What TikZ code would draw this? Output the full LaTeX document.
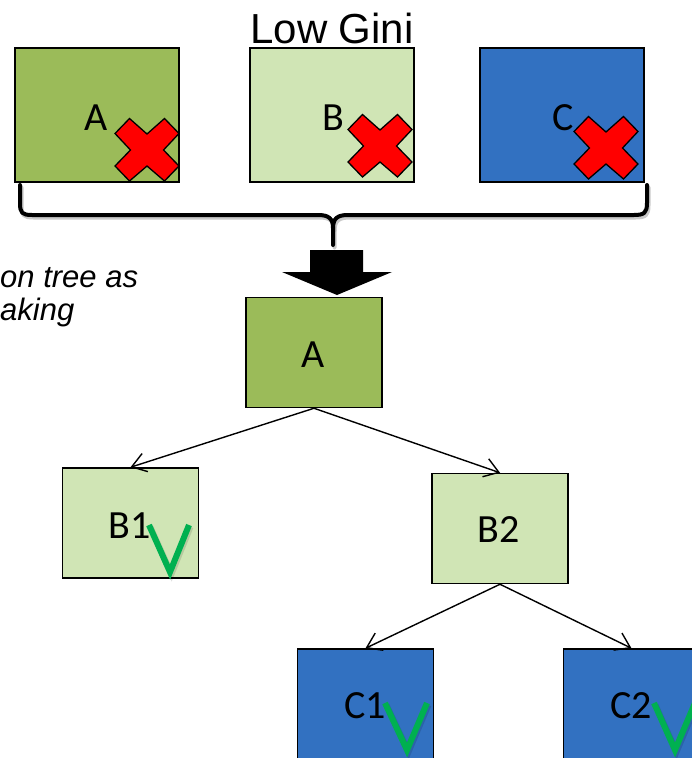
\documentclass[tikz,border=0pt]{standalone}
\usepackage{fontspec}
\setmainfont{Liberation Sans}
\newfontfamily\calfont{Carlito}
\usetikzlibrary{arrows.meta}
\definecolor{dgreen}{HTML}{9BBB59}
\definecolor{lgreen}{HTML}{D0E5B5}
\definecolor{cblue}{HTML}{3271C1}
\definecolor{xred}{HTML}{FF0000}
\definecolor{vgreen}{HTML}{00B050}
\begin{document}
\begin{tikzpicture}[x=1pt,y=-1pt,
  box/.style={draw=black, line width=1.5pt, inner sep=0pt},
  topbox/.style={box, minimum width=164pt, minimum height=134pt},
  treebox/.style={box, minimum width=136pt, minimum height=110pt},
  lab/.style={anchor=base, inner sep=0pt, font=\calfont\fontsize{40}{48}\selectfont},
  edge/.style={line width=1.4pt, -{Straight Barb[length=14pt,width=19pt,line width=1.4pt]}},
  check/.style={draw=vgreen, line width=6pt, line cap=butt, line join=miter},
  checkshadow/.style={check, draw=black, opacity=0.12, shift={(1.5,2)}},
  brace/.style={line width=4pt, line join=round, line cap=round},
  redx/.pic={\draw[fill=xred, draw=black, line width=1.3pt, line join=miter]
     (-32,-16.5) -- (-17.5,-31.5) -- (0,-16) -- (17.5,-31.5) -- (32,-16.5) -- (16.5,0)
     -- (32,16) -- (17.5,31) -- (0,16) -- (-17.5,31) -- (-32,16) -- (-16.5,0) -- cycle;}
]
\useasboundingbox (0,0) rectangle (692,758);

% title
\node[anchor=base, inner sep=0pt, font=\fontsize{42}{50}\selectfont] (title) at (332,43) {Low Gini};

% top boxes
\node[topbox, fill=dgreen] (tA) at (97,115) {};
\node[topbox, fill=lgreen] (tB) at (332,115) {};
\node[topbox, fill=cblue]  (tC) at (562,115) {};
\node[lab] (tAl) at (96.5,130) {A};
\node[lab] (tBl) at (333,130) {B};
\node[lab] (tCl) at (563,130) {C};
\pic at (147,150) {redx};
\pic at (380,146) {redx};
\pic at (606,148) {redx};

% brace (shadow then brace)
\begin{scope}[shift={(1.5,2.5)}]
\draw[brace, black!30, opacity=0.7]
  (20,185) -- (20,203) .. controls (20,213) and (22,215) .. (32,215) -- (318,215)
  .. controls (328,215) and (333,218) .. (333,228) -- (333,245);
\draw[brace, black!30, opacity=0.7]
  (333,228) .. controls (333,218) and (338,215) .. (348,215) -- (634,215)
  .. controls (644,215) and (647,213) .. (647,203) -- (647,185);
\end{scope}
\draw[brace]
  (20,185) -- (20,203) .. controls (20,213) and (22,215) .. (32,215) -- (318,215)
  .. controls (328,215) and (333,218) .. (333,228) -- (333,245);
\draw[brace]
  (333,228) .. controls (333,218) and (338,215) .. (348,215) -- (634,215)
  .. controls (644,215) and (647,213) .. (647,203) -- (647,185);

% block arrow
\fill[black] (310,250) -- (363,250) -- (363,272) -- (392,272) -- (337,295)
  -- (282,272) -- (310,272) -- cycle;

% side text (cropped)
\node[anchor=base west, inner sep=0pt, font=\itshape\fontsize{31}{36}\selectfont] (txt1) at (0,287) {on tree as};
\node[anchor=base west, inner sep=0pt, font=\itshape\fontsize{31}{36}\selectfont] (txt2) at (0,320) {aking};

% tree
\node[treebox, fill=dgreen] (A)  at (314,352.5) {};
\node[treebox, fill=lgreen] (B1) at (130.5,523) {};
\node[treebox, fill=lgreen] (B2) at (500,528.5) {};
\node[treebox, fill=cblue]  (C1) at (365.5,704) {};
\node[treebox, fill=cblue]  (C2) at (631.5,704) {};
\node[lab] (Al)  at (313,367) {A};
\node[lab] (B1l) at (130,538) {B1};
\node[lab] (B2l) at (499,542) {B2};
\node[lab] (C1l) at (365,718) {C1};
\node[lab] (C2l) at (631,718) {C2};

\draw[edge] (A.south) -- (B1.north);
\draw[edge] (A.south) -- (B2.north);
\draw[edge] (B2.south) -- (C1.north);
\draw[edge] (B2.south) -- (C2.north);

% checks
\draw[checkshadow] (149,525) -- (170,572) -- (189,525);
\draw[check] (149,525) -- (170,572) -- (189,525);
\draw[checkshadow] (385,703) -- (407,750) -- (427,703);
\draw[check] (385,703) -- (407,750) -- (427,703);
\draw[checkshadow] (654,703) -- (675,750) -- (695,703);
\draw[check] (654,703) -- (675,750) -- (695,703);
\end{tikzpicture}
\end{document}
